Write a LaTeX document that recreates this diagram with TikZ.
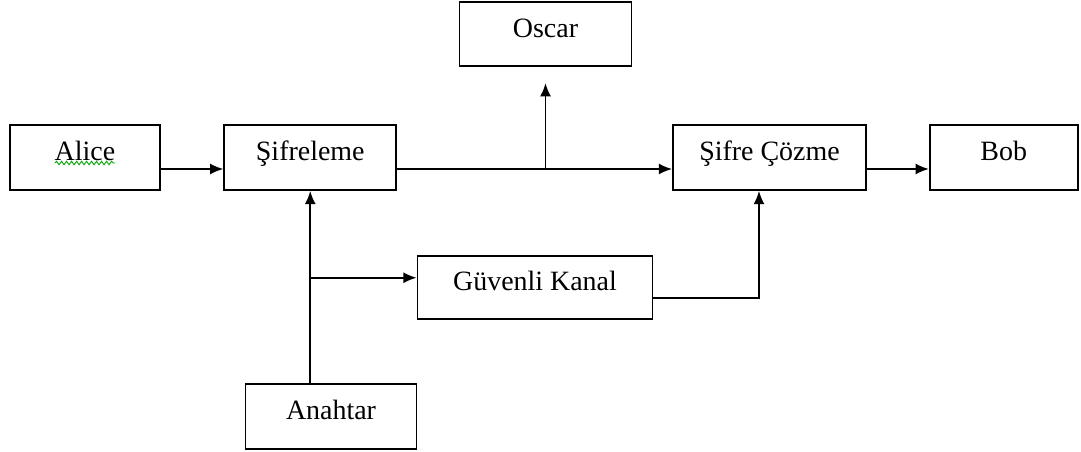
\documentclass[tikz,border=0pt]{standalone}
\usepackage{fontspec}
\setmainfont{Liberation Serif}
\usetikzlibrary{positioning,arrows.meta,decorations.pathmorphing}

\begin{document}
\begin{tikzpicture}[auto, >={Latex[length=7.5pt,width=6.2pt]}, line width=1pt,
    block/.style={draw,
        minimum height=1.3cm,
        text height=0.42cm,
        text depth=0.3cm,
        font=\fontsize{15.9}{19}\selectfont}]
    \useasboundingbox (-1.7,3.15) rectangle (19.92,-5.89);
    % Sender
    \node [block,
        minimum width=3cm
    ]  (Alice) at (0,0) {Alice};
    \draw [green!65!black, line width=0.5pt, decorate,
        decoration={snake, amplitude=0.035cm, segment length=0.1cm}]
        ([xshift=-0.6cm,yshift=-0.11cm]Alice.center) -- ([xshift=0.6cm,yshift=-0.11cm]Alice.center);
    \node [block,
        minimum width=3.44cm,
        right=1.25cm of Alice
    ]  (Sifreleme) {Şifreleme};
    \node [block,
        minimum width=3.86cm,
        right=5.5cm of Sifreleme
    ]  (Cozme) {Şifre Çözme};
    % Receiver
    \node [block,
        minimum width=2.96cm,
        right=1.24cm of Cozme
    ]  (Bob) {Bob};
    % Eavesdropper
    \node [block,
        minimum width=3.44cm,
        minimum height=1.28cm,
        above right=1.14cm and 1.23cm of Sifreleme
    ]  (Oscar) {Oscar};
    % Key
    \node [block,
        minimum width=4.7cm,
        minimum height=1.26cm,
        below right=1.28cm and 0.39cm of Sifreleme
    ]  (Kanal) {Güvenli Kanal};
    \node [block,
        minimum width=3.42cm,
        below right=3.84cm and -3.05cm of Sifreleme
    ]  (Anahtar) {Anahtar};

    \coordinate (SifOut) at ([yshift=-0.23cm]Sifreleme.east);
    \coordinate (KanalIn) at ([yshift=0.19cm]Kanal.west);
    \coordinate (Tap) at (Oscar.south |- SifOut);
    \coordinate (Fork) at (Sifreleme.south |- KanalIn);

    \draw[->] ([yshift=-0.23cm]Alice.east) -- ([yshift=-0.23cm]Sifreleme.west);
    \draw[->] (SifOut) -- ([yshift=-0.23cm]Cozme.west);
    \draw[->] ([yshift=-0.23cm]Cozme.east) -- ([yshift=-0.23cm]Bob.west);
    \draw[->] (Tap) -- ([yshift=-0.32cm]Oscar.south);
    \draw[->] (Sifreleme.south |- Anahtar.north) -- (Sifreleme.south);
    \draw[->] (Fork) -- (KanalIn);
    \draw[->] ([yshift=-0.21cm]Kanal.east) -| ([xshift=-0.21cm]Cozme.south);
\end{tikzpicture}
\end{document}
